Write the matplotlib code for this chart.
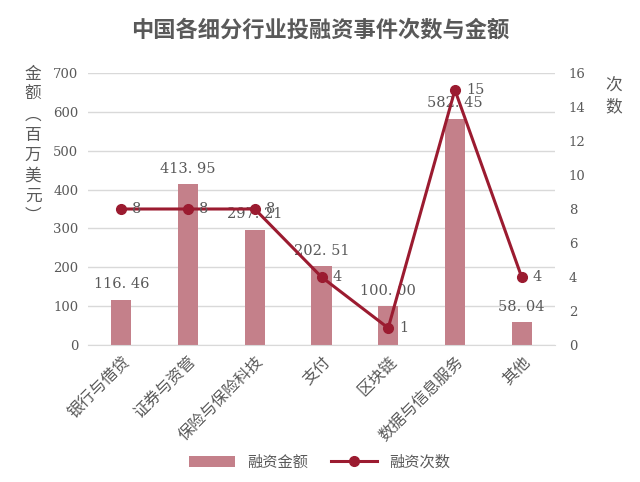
import matplotlib
matplotlib.use("Agg")
import matplotlib.pyplot as plt

plt.rcParams["font.family"] = ["Noto Sans CJK SC", "DejaVu Sans"]

categories = ["银行与借贷", "证券与资管", "保险与保险科技", "支付", "区块链", "数据与信息服务", "其他"]
amounts = [116.46, 413.95, 297.21, 202.51, 100.00, 582.45, 58.04]
counts = [8, 8, 8, 4, 1, 15, 4]

bar_color = "#C4808A"
line_color = "#9B1B30"
text_color = "#595959"
grid_color = "#D9D9D9"

fig = plt.figure(figsize=(6.4, 4.82), dpi=100)
ax = fig.add_axes([88 / 640, 1 - 345 / 482, 467 / 640, 272 / 482])
ax2 = ax.twinx()

x = list(range(len(categories)))
bars = ax.bar(x, amounts, width=0.3, color=bar_color, zorder=2, label="融资金额")
ax.set_ylim(0, 700)
ax.set_yticks(range(0, 701, 100))
ax.set_xlim(-0.5, len(categories) - 0.5)
ax.grid(axis="y", color=grid_color, linewidth=1, zorder=0)
ax.set_axisbelow(True)

for xi, v in zip(x, amounts):
    ax.annotate(f"{v:.2f}".replace(".", ". "), (xi, v), xytext=(0, 6), textcoords="offset points",
                ha="center", va="bottom", fontsize=10.5, color=text_color, family="DejaVu Serif")

(line,) = ax2.plot(x, counts, color=line_color, linewidth=2.2, marker="o", markersize=7,
                   zorder=3, label="融资次数")
ax2.set_ylim(0, 16)
ax2.set_yticks(range(0, 17, 2))
for xi, c in zip(x, counts):
    ax2.annotate(str(c), (xi, c), xytext=(8, 0), textcoords="offset points",
                 ha="left", va="center", fontsize=10.5, color=text_color, family="DejaVu Serif")

for a in (ax, ax2):
    for s in a.spines.values():
        s.set_visible(False)
    a.tick_params(axis="y", length=0, labelsize=9.5, labelcolor=text_color)
    for lbl in a.get_yticklabels():
        lbl.set_family("DejaVu Serif")
ax.spines["bottom"].set_visible(True)
ax.spines["bottom"].set_color(grid_color)
ax.tick_params(axis="y", pad=7)
ax2.tick_params(axis="y", pad=10)

ax.set_xticks(x)
ax.set_xticklabels(categories, rotation=45, ha="right", rotation_mode="anchor",
                   fontsize=11.5, color=text_color)
ax.tick_params(axis="x", length=0, pad=6)

fig.text(0.5, 1 - 30 / 482, "中国各细分行业投融资事件次数与金额", ha="center", va="center",
         fontsize=16, fontweight="bold", color=text_color)
fig.text(33 / 640, 1 - 66 / 482, "金\n额\n︵\n百\n万\n美\n元\n︶", ha="center", va="top",
         fontsize=12, color=text_color, linespacing=1.25)
fig.text(614 / 640, 1 - 78 / 482, "次\n数", ha="center", va="top",
         fontsize=12, color=text_color, linespacing=1.25)

fig.legend(handles=[bars, line], loc="center", bbox_to_anchor=(0.5, 1 - 462 / 482),
           ncol=2, frameon=False, fontsize=11, labelcolor=text_color,
           handlelength=3, columnspacing=1.5)

fig.savefig("out.png", dpi=100)
